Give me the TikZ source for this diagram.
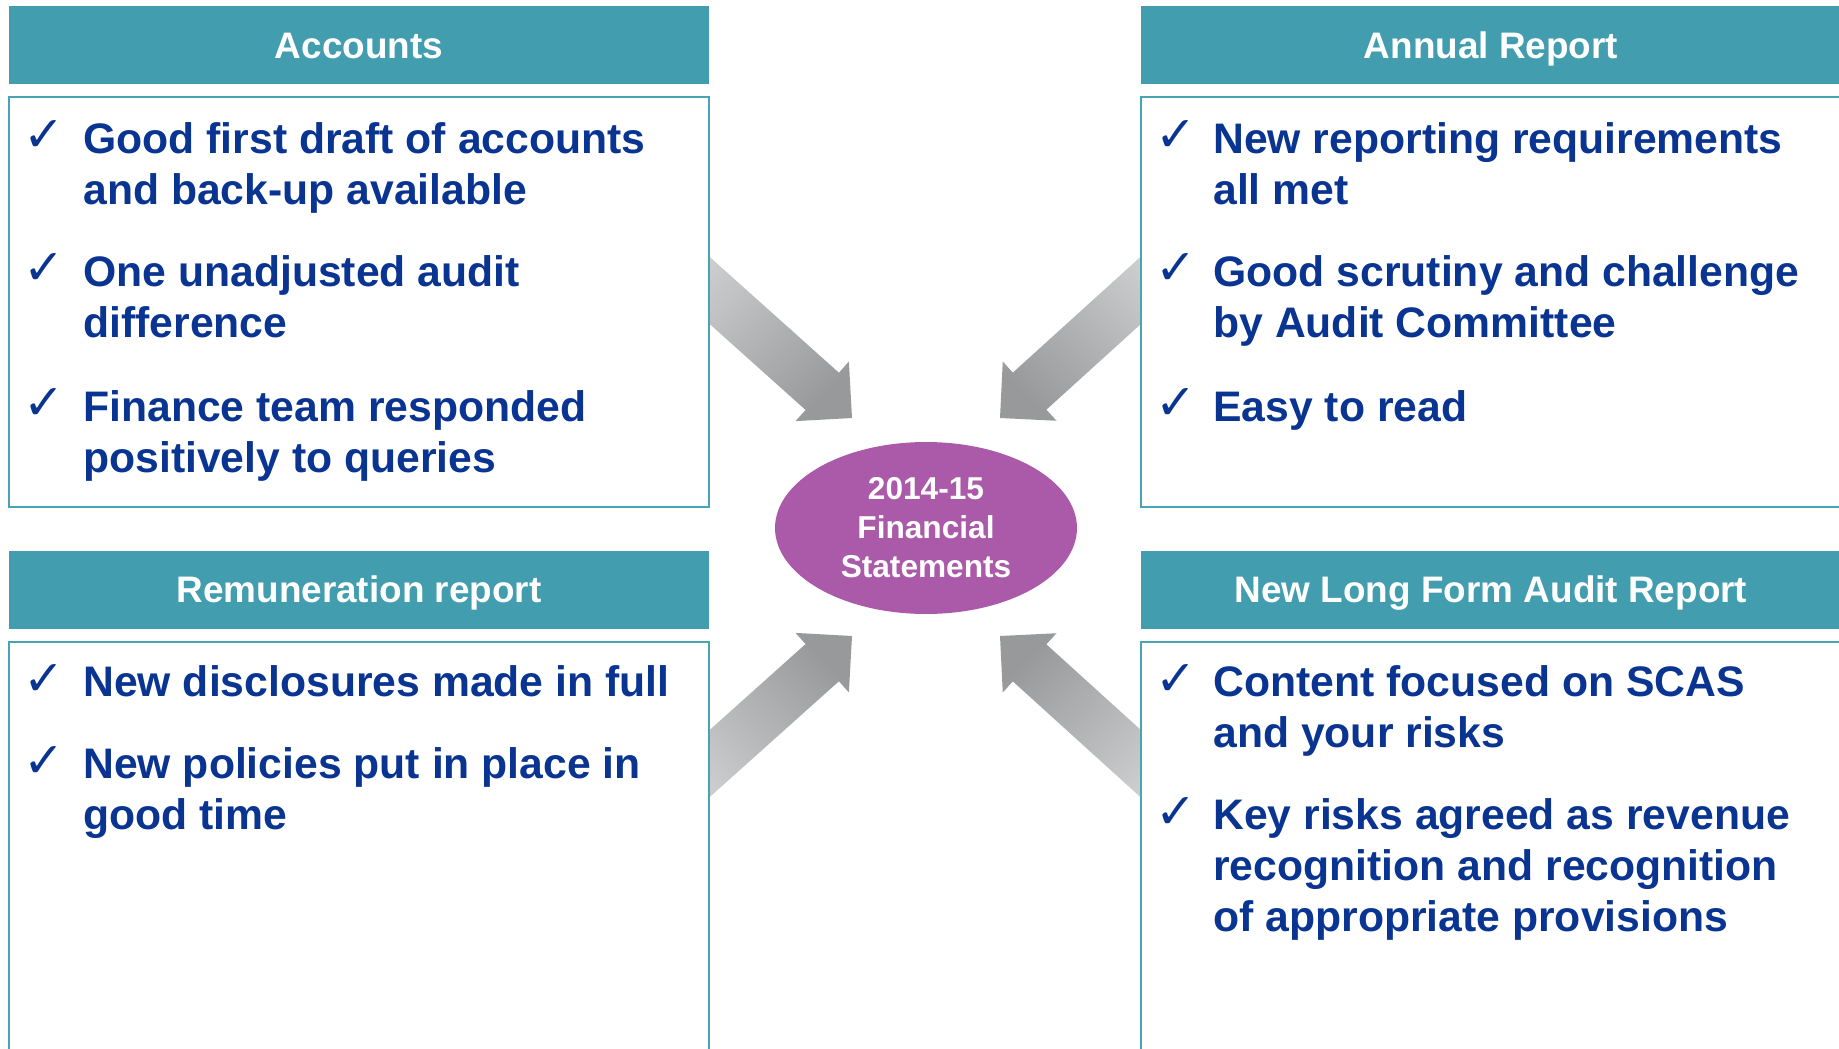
\documentclass[tikz,border=0pt]{standalone}
\usepackage{fontspec}
\setmainfont{Liberation Sans}
\newfontfamily\tickfont{DejaVu Sans}
\usetikzlibrary{shapes.geometric,calc,backgrounds}

\definecolor{hdteal}{RGB}{66,157,174}
\definecolor{bdteal}{RGB}{74,163,177}
\definecolor{navy}{RGB}{10,52,145}
\definecolor{fspurple}{RGB}{170,90,168}
\definecolor{arrowlight}{RGB}{204,205,206}
\definecolor{arrowdark}{RGB}{152,153,155}

\tikzset{
  head/.style={fill=hdteal, text=white, minimum width=14cm, minimum height=1.56cm,
    inner sep=0, text height=15pt, text depth=0pt,
    font=\fontsize{21}{24}\bfseries\selectfont},
  body/.style={draw=bdteal, line width=1.1pt, fill=white, minimum width=14cm, inner sep=0},
  item/.style={anchor=north west, align=left, inner sep=0, text=navy,
    font=\fontsize{24.3}{29}\bfseries\selectfont},
  tick/.style={anchor=base west, inner sep=0, text=navy, font=\fontsize{28}{28}\tickfont},
}

%% block arrow: #1 tail, #2 tip, #3 shading angle
\newcommand\blockarrow[3]{%
  \coordinate (ba) at ($(#2)!0.8cm!(#1)$);
  \shade[top color=arrowlight, bottom color=arrowdark, shading angle=#3]
    ($(#1)!0.5cm!90:(#2)$) -- ($(ba)!0.5cm!-90:(#1)$) -- ($(ba)!0.8cm!-90:(#1)$) -- (#2)
    -- ($(ba)!0.8cm!90:(#1)$) -- ($(ba)!0.5cm!90:(#1)$) -- ($(#1)!0.5cm!-90:(#2)$) -- cycle;}

\begin{document}
\begin{tikzpicture}
[x=0.02cm, y=-0.02cm]
\useasboundingbox (0,0) rectangle (1839,1048);
%% headers and boxes
\node[head] (acchd) at (359,45) {Accounts};
\node[body, minimum height=8.2cm] (accbox) at (359,302) {};
\node[head] (annhd) at (1491,45) {Annual Report};
\node[body, minimum height=8.2cm] (annbox) at (1491,302) {};
\node[head] (remhd) at (359,589.5) {Remuneration report};
\node[body, minimum height=8.6cm] (rembox) at (359,857) {};
\node[head] (lfahd) at (1491,589.5) {New Long Form Audit Report};
\node[body, minimum height=8.6cm] (lfabox) at (1491,857) {};
%% centre
\node[ellipse, fill=fspurple, minimum width=6.04cm, minimum height=3.44cm, inner sep=0,
  align=center, text=white, font=\fontsize{18}{22.2}\bfseries\selectfont]
  (fs) at (926,528) {2014-15\\Financial\\Statements};
%% Accounts
\node[tick] (acc1c) at (23,151) {✓};
\node[item] (acc1) at (83,122) {Good first draft of accounts\\and back-up available};
\node[tick] (acc2c) at (23,284) {✓};
\node[item] (acc2) at (83,255) {One unadjusted audit\\difference};
\node[tick] (acc3c) at (23,419) {✓};
\node[item] (acc3) at (83,390) {Finance team responded\\positively to queries};
%% Annual Report
\node[tick] (ann1c) at (1155,151) {✓};
\node[item] (ann1) at (1213,122) {New reporting requirements\\all met};
\node[tick] (ann2c) at (1155,284) {✓};
\node[item] (ann2) at (1213,255) {Good scrutiny and challenge\\by Audit Committee};
\node[tick] (ann3c) at (1155,419) {✓};
\node[item] (ann3) at (1213,390) {Easy to read};
%% Remuneration report
\node[tick] (rem1c) at (23,695) {✓};
\node[item] (rem1) at (83,665) {New disclosures made in full};
\node[tick] (rem2c) at (23,777) {✓};
\node[item] (rem2) at (83,747) {New policies put in place in\\good time};
%% New Long Form Audit Report
\node[tick] (lfa1c) at (1155,695) {✓};
\node[item] (lfa1) at (1213,665) {Content focused on SCAS\\and your risks};
\node[tick] (lfa2c) at (1155,828) {✓};
\node[item] (lfa2) at (1213,798) {Key risks agreed as revenue\\recognition and recognition\\of appropriate provisions};
%% arrows into the centre, tails hidden behind the boxes
\coordinate (accout) at ($(accbox.east)+(-22,-31)$);
\coordinate (annout) at ($(annbox.west)+(22,-31)$);
\coordinate (remout) at ($(rembox.east)+(-22,-74)$);
\coordinate (lfaout) at ($(lfabox.west)+(22,-74)$);
\coordinate (accin) at ($(fs.center)+(-74,-110)$);
\coordinate (annin) at ($(fs.center)+(74,-110)$);
\coordinate (remin) at ($(fs.center)+(-74,108)$);
\coordinate (lfain) at ($(fs.center)+(74,108)$);
\begin{scope}[on background layer]
\blockarrow{accout}{accin}{45}
\blockarrow{annout}{annin}{-45}
\blockarrow{remout}{remin}{135}
\blockarrow{lfaout}{lfain}{-135}
\end{scope}
\end{tikzpicture}
\end{document}
